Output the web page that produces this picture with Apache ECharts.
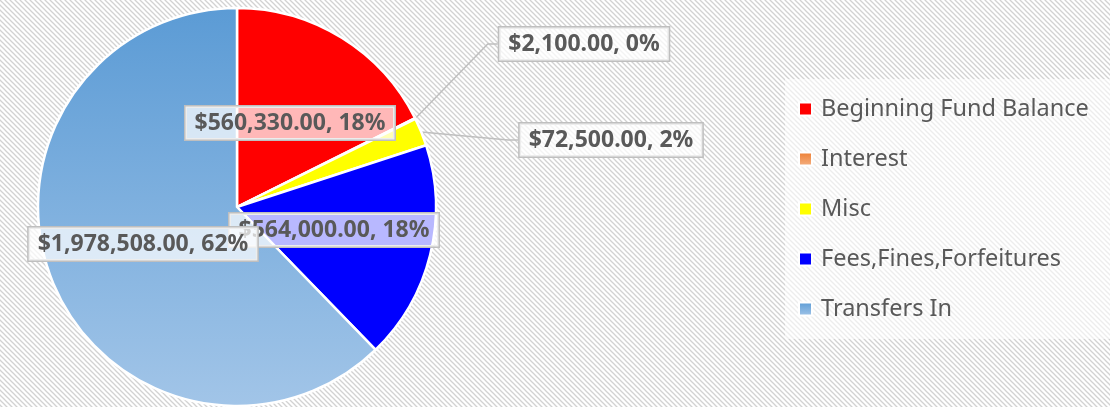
<!DOCTYPE html>
<html>
<head>
<meta charset="utf-8">
<script src="https://cdn.jsdelivr.net/npm/echarts@6/dist/echarts.min.js"></script>
<style>
  html, body { margin: 0; padding: 0; }
  #chart { width: 1110px; height: 407px; }
</style>
</head>
<body>
<div id="chart"></div>
<script>
// chart data
const categories = ['Beginning Fund Balance', 'Interest', 'Misc', 'Fees,Fines,Forfeitures', 'Transfers In']
const values = [560330, 2100, 72500, 564000, 1978508]

// where each data label box sits (centre), in px, and whether it is pulled out
const labelSpots = [[290, 123], [584, 44], [611, 140], [334, 230], [143, 244]]
const labelOutside = [false, true, true, false, false]

// hatched plot background, 5px tile
const tile = document.createElement('canvas')
tile.width = 5
tile.height = 5
const tctx = tile.getContext('2d')
tctx.fillStyle = '#ffffff'
tctx.fillRect(0, 0, 5, 5)
tctx.strokeStyle = '#d2d2d2'
tctx.lineWidth = 1.3
;[-5, 0, 5].forEach(k => {
  tctx.beginPath()
  tctx.moveTo(k - 1, -1)
  tctx.lineTo(k + 6, 6)
  tctx.stroke()
})
document.getElementById('chart').style.background = 'url(' + tile.toDataURL() + ') repeat'

const grad = (a, b) => new echarts.graphic.LinearGradient(0, 0, 0, 1, [
  { offset: 0, color: a },
  { offset: 1, color: b }
])
const colors = [
  '#ff0000',
  grad('#ed7d31', '#f4b183'),
  '#ffff00',
  '#0000ff',
  grad('#5b9bd5', '#a2c5e8')
]

const money = v => '$' + v.toLocaleString('en-US', { minimumFractionDigits: 2, maximumFractionDigits: 2 })

const chart = echarts.init(document.getElementById('chart'))
chart.setOption({
  animation: false,
  backgroundColor: 'transparent',
  legend: {
    orient: 'vertical',
    left: 785,
    top: 79,
    padding: [18, 30, 18, 13],
    backgroundColor: 'rgba(255,255,255,0.6)',
    itemGap: 26,
    icon: 'rect',
    itemWidth: 13,
    itemHeight: 13,
    selectedMode: false,
    textStyle: {
      fontFamily: 'Noto Sans',
      fontSize: 23.5,
      lineHeight: 23,
      color: '#595959',
      padding: [0, 0, 0, 4]
    },
    data: categories
  },
  series: [{
    type: 'pie',
    center: [237, 207],
    radius: 199,
    startAngle: 90,
    clockwise: true,
    itemStyle: {
      borderColor: '#ffffff',
      borderWidth: 2.5
    },
    label: {
      show: true,
      formatter: p => money(p.value) + ', ' + Math.round(p.percent) + '%',
      fontFamily: 'Noto Sans',
      fontWeight: 'bold',
      fontSize: 23,
      color: '#595959',
      backgroundColor: 'rgba(255,255,255,0.72)',
      borderColor: '#bfbfbf',
      borderWidth: 1.5,
      padding: [6, 9, 4, 9]
    },
    labelLine: {
      show: true,
      length: 10,
      length2: 10,
      lineStyle: { color: '#bfbfbf', width: 1.5 }
    },
    labelLayout: params => {
      const s = labelSpots[params.dataIndex]
      return { x: s[0], y: s[1], align: 'center', verticalAlign: 'middle' }
    },
    emphasis: { disabled: true },
    data: categories.map((name, i) => ({
      name: name,
      value: values[i],
      itemStyle: { color: colors[i] },
      label: { position: labelOutside[i] ? 'outside' : 'inside' }
    }))
  }]
})
</script>
</body>
</html>
